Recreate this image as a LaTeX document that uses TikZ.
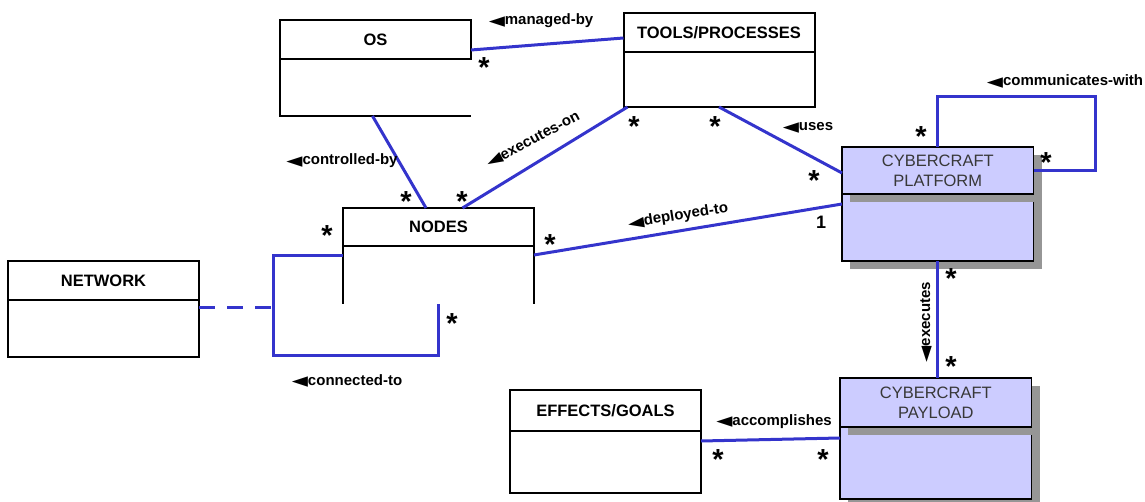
\documentclass[tikz,border=0pt]{standalone}
\usepackage{fontspec}
\setmainfont{Liberation Sans}
\newfontfamily\symfont{DejaVu Sans}
\usetikzlibrary{calc,shadows}
\definecolor{linkblue}{RGB}{52,52,204}
\definecolor{lav}{RGB}{204,204,255}
\definecolor{shade}{RGB}{150,150,150}
% direction marker in front of an association name
\newcommand\ltri{\raisebox{-2.2pt}{\symfont\fontsize{21}{21}\selectfont ◄}}
% multiplicity star, lowered so that its ink sits on the baseline
\newcommand\mstar{\raisebox{-16.4pt}{*}}

\begin{document}
\begin{tikzpicture}[x=1pt,y=-1pt,
  hdr/.style={draw=black, line width=2pt, minimum width=191pt, inner sep=0pt,
    outer sep=0pt, anchor=north west, font=\fontsize{16.5}{20}\selectfont\bfseries},
  body/.style={draw=black, line width=2pt, minimum width=191pt, inner sep=0pt,
    outer sep=0pt, anchor=north west},
  openbody/.style={draw=none, minimum width=191pt, inner sep=0pt,
    outer sep=0pt, anchor=north west},
  frame/.style={draw=black, line width=2pt},
  chdr/.style={draw=black, line width=1.3pt, fill=lav, minimum width=191.5pt,
    inner sep=0pt, outer sep=0pt, anchor=north west, align=center,
    text=black!78, font=\fontsize{16.5}{20}\selectfont,
    drop shadow={shadow xshift=8pt, shadow yshift=-8pt, fill=shade, opacity=1}},
  cbody/.style={draw=black, line width=1.3pt, fill=lav, minimum width=191.5pt,
    inner sep=0pt, outer sep=0pt, anchor=north west,
    drop shadow={shadow xshift=8pt, shadow yshift=-8pt, fill=shade, opacity=1}},
  link/.style={draw=linkblue, line width=3pt},
  lbl/.style={font=\fontsize{15}{15}\selectfont\bfseries, inner sep=0pt,
    text height=11pt, text depth=3pt},
  mult/.style={font=\fontsize{29}{29}\selectfont\bfseries, inner sep=0pt,
    text height=5pt, text depth=5pt},
  one/.style={font=\fontsize{18}{18}\selectfont\bfseries, inner sep=0pt}
]
\useasboundingbox (0,0) rectangle (1145,502);

% ---- plain classes ----
\node[hdr, minimum height=39pt] (os) at (280,20) {OS};
\node[openbody, minimum height=57pt] (osb) at (os.south west) {};
\draw[frame] (osb.north west) -- (osb.south west) -- (osb.south east);

\node[hdr, minimum height=39pt] (tools) at (623.5,13) {TOOLS/PROCESSES};
\node[body, minimum height=55pt] (toolsb) at (tools.south west) {};

\node[hdr, minimum height=38pt] (nodes) at (343,208) {NODES};
\node[openbody, minimum height=58pt] (nodesb) at (nodes.south west) {};
\draw[frame] (nodesb.north west) -- (nodesb.south west);
\draw[frame] (nodesb.north east) -- (nodesb.south east);

\node[hdr, minimum height=39pt] (net) at (8,261) {NETWORK};
\node[body, minimum height=57pt] (netb) at (net.south west) {};

\node[hdr, minimum height=41pt] (eff) at (510,390) {EFFECTS/GOALS};
\node[body, minimum height=62pt] (effb) at (eff.south west) {};

% ---- cybercraft classes (shaded) ----
\node[cbody, minimum height=67pt] (platb) at (842,194) {};
\node[chdr, minimum height=47pt] (plat) at (842,147) {CYBERCRAFT\\PLATFORM};
\node[cbody, minimum height=72pt] (payb) at (840,427) {};
\node[chdr, minimum height=49pt] (pay) at (840,378) {CYBERCRAFT\\PAYLOAD};

% ---- associations ----
\draw[link] ([yshift=-10.5pt]os.east) -- ([yshift=-5.5pt]tools.west);
\draw[link] ([xshift=-3pt]osb.south) -- ([xshift=-12.5pt]nodes.north);
\draw[link] ([xshift=4pt]toolsb.south west) -- ([xshift=24pt]nodes.north);
\draw[link] (toolsb.south) -- ([yshift=-2.5pt]plat.west);
\draw[link] ([yshift=-9pt]nodesb.north east) -- ([yshift=-10pt]platb.north west);
\coordinate (loop) at (1095,97);
\draw[link] (plat.north) |- (loop) |- (plat.east);
\draw[link] (platb.south) -- (platb.south |- pay.north);
\draw[link] ([yshift=-10pt]effb.north east) -- ([yshift=-11pt]payb.north west);
\coordinate (ring) at (273,355);
\draw[link] ([yshift=-9.7pt]nodesb.north west) -| (ring) -| (nodesb.south);
\coordinate (netc) at ([yshift=-8pt]netb.north east);
\draw[link, dash pattern=on 16pt off 12pt] (netc) -- (netc -| ring);

% ---- association names ----
\node[lbl] (lmanaged) at (541,21) {\ltri managed-by};
\node[lbl] (lctrl) at (342,161) {\ltri controlled-by};
\node[lbl, rotate=28] (lexon) at (533,140) {\ltri executes-on};
\node[lbl] (luses) at (808,127) {\ltri uses};
\node[lbl] (lcomm) at (1065,82) {\ltri communicates-with};
\node[lbl, rotate=9] (ldep) at (678,216) {\ltri deployed-to};
\node[lbl, rotate=90] (lexec) at (926,322) {\ltri executes};
\node[lbl] (lconn) at (347,381) {\ltri connected-to};
\node[lbl] (lacc) at (774,421) {\ltri accomplishes};

% ---- multiplicities ----
\node[mult] (m1) at (484,61) {\mstar};
\node[mult] (m2) at (634,120) {\mstar};
\node[mult] (m3) at (715,120) {\mstar};
\node[mult] (m4) at (814,174) {\mstar};
\node[mult] (m5) at (921,130) {\mstar};
\node[mult] (m6) at (1046,156) {\mstar};
\node[mult] (m7) at (406,195) {\mstar};
\node[mult] (m8) at (462,195) {\mstar};
\node[mult] (m9) at (327,229) {\mstar};
\node[mult] (m10) at (550,238) {\mstar};
\node[mult] (m11) at (452,317) {\mstar};
\node[mult] (m12) at (951,272) {\mstar};
\node[mult] (m13) at (951,360) {\mstar};
\node[mult] (m14) at (718,453) {\mstar};
\node[mult] (m15) at (823,453) {\mstar};
\node[one] (m16) at (821,222) {1};
\end{tikzpicture}
\end{document}
